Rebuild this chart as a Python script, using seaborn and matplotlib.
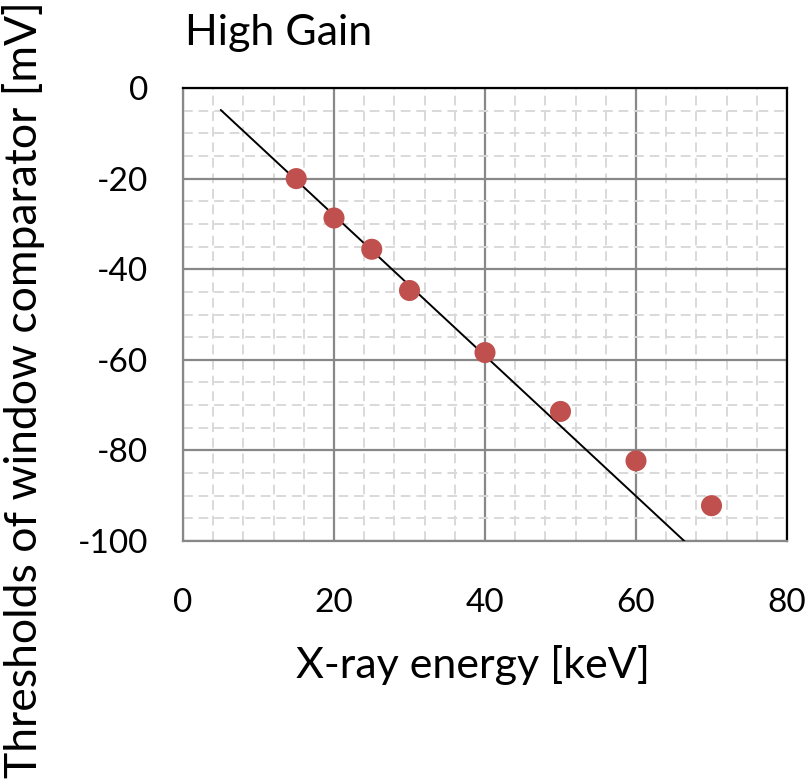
import matplotlib
matplotlib.use("Agg")
import matplotlib.pyplot as plt
import seaborn as sns
import numpy as np
from matplotlib.ticker import MultipleLocator

# measured points
energy = [15, 20, 25, 30, 40, 50, 60, 70]
threshold = [-20.0, -28.7, -35.6, -44.7, -58.4, -71.4, -82.3, -92.2]

# linear fit drawn on the chart
fit_x = [5, 70]
fit_slope = -1.55
fit_offset = 2.9

sns.set_style("white")
plt.rcParams['font.family'] = ['Lato', 'DejaVu Sans']
plt.rcParams['axes.unicode_minus'] = False
plt.rcParams['text.color'] = 'black'

W, H = 805, 780
fig = plt.figure(figsize=(W / 100, H / 100), dpi=100)
ax = fig.add_axes([183 / W, 1 - 541 / H, 604 / W, 453 / H])

fx = np.array(fit_x, dtype=float)
ax.plot(fx, fit_offset + fit_slope * fx, color='black', lw=1.4, zorder=3)
sns.scatterplot(x=energy, y=threshold, ax=ax, color='#c0504d', s=230,
                edgecolor='none', zorder=4)

ax.set_xlim(0, 80)
ax.set_ylim(-100, 0)
ax.xaxis.set_major_locator(MultipleLocator(20))
ax.yaxis.set_major_locator(MultipleLocator(20))
ax.xaxis.set_minor_locator(MultipleLocator(4))
ax.yaxis.set_minor_locator(MultipleLocator(5))
ax.grid(which='major', color='#888888', lw=1.6)
ax.grid(which='minor', color='#d9d9d9', lw=1.4, ls=(0, (5, 3)))
ax.set_axisbelow(True)

for side in ['left', 'bottom']:
    ax.spines[side].set_color('#888888')
    ax.spines[side].set_linewidth(1.6)
for side in ['top', 'right']:
    ax.spines[side].set_color('black')
    ax.spines[side].set_linewidth(1.6)

ax.tick_params(which='both', length=0, labelsize=24, labelcolor='black')
ax.tick_params(axis='y', pad=25)
ax.tick_params(axis='x', pad=34)

fig.text(473 / W, 1 - 665 / H, 'X-ray energy [keV]', fontsize=31,
         ha='center', va='center')
fig.text(24 / W, 0.5, 'Thresholds of window comparator [mV]', fontsize=32,
         rotation=90, ha='center', va='center')
fig.text(185 / W, 1 - 45 / H, 'High Gain', fontsize=31, ha='left',
         va='baseline')

fig.savefig('out.png', dpi=100)
